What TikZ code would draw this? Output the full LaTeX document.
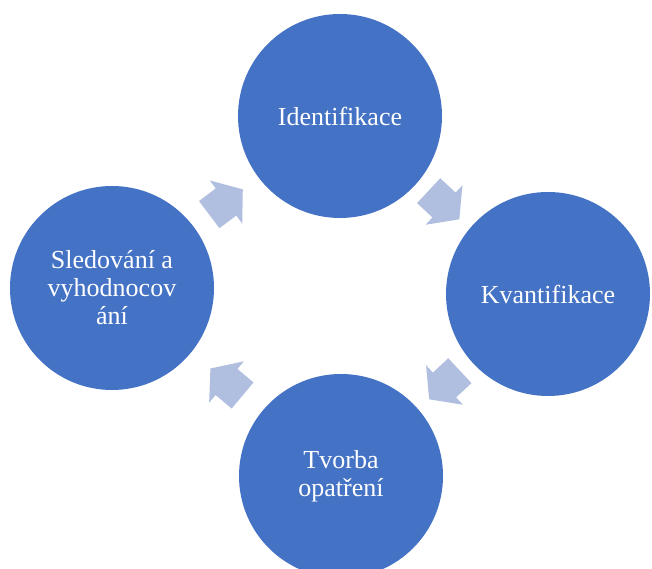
\documentclass[tikz,border=0pt]{standalone}
\usepackage{fontspec}
\setmainfont{Liberation Serif}
\usetikzlibrary{calc}

\definecolor{kruh}{HTML}{4472C4}
\definecolor{sipka}{HTML}{B0BEE0}

\tikzset{
	krok/.style={circle, fill=kruh, minimum size=204pt, inner sep=0pt, text=white, align=center, font=\fontsize{26}{28}\selectfont},
	cyklsipka/.pic={
		\fill[sipka] (-21pt,-17pt) -- (0pt,-17pt) -- (0pt,-27pt) -- (21pt,0pt) -- (0pt,27pt) -- (0pt,17pt) -- (-21pt,17pt) -- cycle;
	}
}

\begin{document}
\begin{tikzpicture}[x=1pt,y=1pt]
	\useasboundingbox (0,0) rectangle (652,569);
	
	\node [krok] (idf) at (340,453) {Identifikace};
	\node [krok] (kvant) at (548,275) {Kvantifikace};
	\node [krok] (tvorba) at (341,93) {Tvorba\\opatření};
	\node [krok] (sled) at (112,281) {Sledování a\\vyhodnocov\\ání};
	
	\foreach \a/\b/\r in {sled/idf/37, idf/kvant/-43, kvant/tvorba/223, tvorba/sled/140}
	{
		\pic [rotate=\r] at ($(\a)!0.5!(\b)$) {cyklsipka};
	}
	
\end{tikzpicture}
\end{document}
